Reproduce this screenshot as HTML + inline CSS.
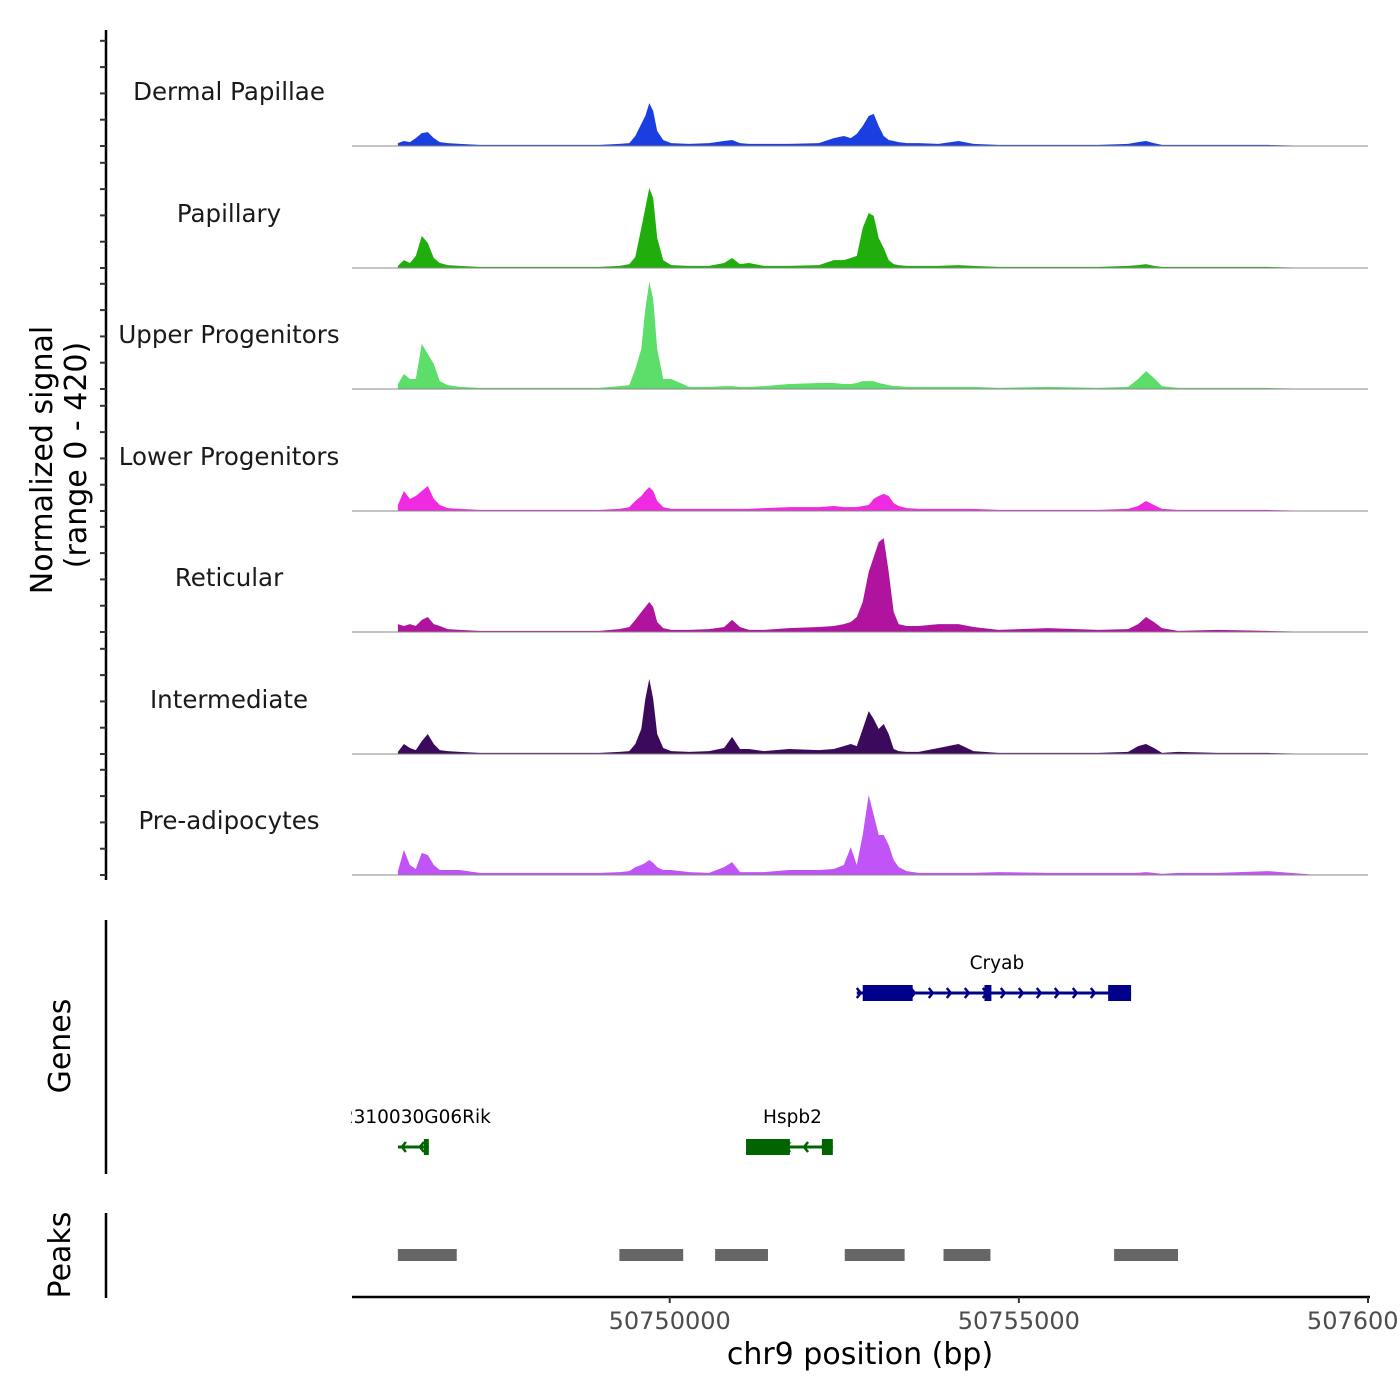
<!DOCTYPE html>
<html><head><meta charset="utf-8">
<style>
html,body{margin:0;padding:0;background:#fff;}
svg{display:block;font-family:"DejaVu Sans","Liberation Sans",sans-serif;}
</style></head>
<body>
<svg id="chart" width="1400" height="1400" viewBox="0 0 1400 1400" xmlns="http://www.w3.org/2000/svg">
<rect x="0" y="0" width="1400" height="1400" fill="#fff"/>
<g id="tracks"></g>
<g id="yaxis"></g>
<text transform="translate(52,460) rotate(-90)" text-anchor="middle" font-size="30" fill="#000">Normalized signal</text>
<text transform="translate(86,455) rotate(-90)" text-anchor="middle" font-size="30" fill="#000">(range 0 - 420)</text>
<g id="genes"></g>
<line x1="106" y1="920" x2="106" y2="1174" stroke="#000" stroke-width="2.5"/>
<text transform="translate(70,1046) rotate(-90)" text-anchor="middle" font-size="30" fill="#000">Genes</text>
<g id="peaks"></g>
<line x1="106" y1="1213" x2="106" y2="1298" stroke="#000" stroke-width="2.5"/>
<text transform="translate(70,1255) rotate(-90)" text-anchor="middle" font-size="30" fill="#000">Peaks</text>
<g id="xaxis"></g>
<text x="860" y="1364" text-anchor="middle" font-size="30" fill="#000">chr9 position (bp)</text>
</svg>
<script>
const trackNames = ["Dermal Papillae","Papillary","Upper Progenitors","Lower Progenitors","Reticular","Intermediate","Pre-adipocytes"];
const trackColors = ["#1a3fe0","#1fae0b","#5ddd6a","#f02ae0","#b0149f","#3b0a5c","#c054f7"];
const positions = [50746107,50746193,50746279,50746364,50746450,50746536,50746621,50746707,50746821,50746993,50747279,50747850,50748421,50748993,50749279,50749421,50749507,50749593,50749650,50749707,50749764,50749821,50749907,50750021,50750279,50750564,50750779,50750893,50751007,50751136,50751350,50751707,50752136,50752350,50752493,50752593,50752679,50752764,50752850,50752921,50752993,50753064,50753136,50753207,50753279,50753393,50753564,50753850,50754136,50754350,50754707,50755421,50756136,50756564,50756707,50756821,50756936,50757050,50757279,50757850,50758564,50759279];
const sigDermalPapillae = [11,19,15,30,49,53,30,15,11,8,4,4,4,4,8,11,38,84,114,163,133,57,23,11,8,11,19,23,11,8,8,8,11,30,38,30,46,76,114,122,76,38,23,19,15,11,11,8,19,8,4,4,4,8,15,19,11,4,4,4,4,0];
const sigPapillary = [8,30,19,46,122,95,38,19,11,8,4,4,4,4,8,15,42,152,228,304,266,114,30,11,8,8,19,38,15,19,8,8,11,30,30,38,46,152,209,198,114,76,30,15,11,8,8,8,11,8,4,4,4,8,11,15,8,4,4,4,4,0];
const sigUpperProgenitors = [19,57,38,38,171,133,95,30,15,8,4,4,4,4,11,15,76,152,304,407,342,152,38,38,8,8,11,11,8,8,11,19,23,23,19,19,23,30,30,30,23,19,15,11,11,8,8,8,8,8,4,8,4,8,38,68,42,11,4,4,4,0];
const sigLowerProgenitors = [23,76,46,57,76,95,46,23,11,8,4,4,4,4,8,15,38,57,76,91,76,38,15,8,8,8,8,8,8,8,11,15,15,19,15,15,15,19,23,46,57,65,57,30,19,11,8,8,8,8,4,4,4,8,19,38,23,8,4,4,4,0];
const sigReticular = [30,23,30,23,46,57,30,23,11,8,4,4,4,4,11,19,46,76,95,114,95,38,15,8,8,11,19,46,19,8,8,15,19,23,30,38,57,114,228,285,342,357,228,76,30,23,23,30,30,19,8,15,8,11,30,57,38,15,4,8,4,0];
const sigIntermediate = [8,38,23,15,49,76,38,15,11,8,4,4,4,4,8,11,38,95,209,285,209,76,23,11,8,11,23,65,19,19,11,19,15,19,30,38,30,95,163,133,95,114,76,19,11,8,8,23,38,11,4,4,4,8,30,38,23,4,8,4,4,0];
const sigPreadipocytes = [15,95,38,23,84,76,38,19,19,19,8,8,8,8,11,15,30,38,46,57,46,30,19,19,11,8,30,49,11,11,11,19,19,23,38,106,38,152,304,228,152,152,114,57,30,15,8,8,8,8,11,8,8,8,8,11,8,4,8,8,15,0];
const trackSignals = [sigDermalPapillae,sigPapillary,sigUpperProgenitors,sigLowerProgenitors,sigReticular,sigIntermediate,sigPreadipocytes];
const xTicks = [50750000,50755000,50760000];
const xTickLabels = ["50750000","50755000","50760000"];
const yTicks = [0,100,200,300,400];
const geneNames = ["Cryab","Hspb2","2310030G06Rik"];
const geneStarts = [50752679,50751093,50746107];
const geneEnds = [50756607,50752336,50746550];
const geneStrands = [1,-1,-1];
const geneExonStarts = [[50752764,50754507,50756279],[50751093,50752179],[50746479]];
const geneExonEnds = [[50753479,50754607,50756607],[50751721,50752336],[50746550]];
const peakStarts = [50746107,50749279,50750650,50752507,50753921,50756364];
const peakEnds = [50746950,50750193,50751407,50753364,50754593,50757279];

const NS="http://www.w3.org/2000/svg";
function mk(tag,attrs,parent){const e=document.createElementNS(NS,tag);for(const k in attrs)e.setAttribute(k,attrs[k]);parent.appendChild(e);return e;}
const X0=352,X1=1368,D0=50745450,D1=50760000;
function xs(bp){return X0+(bp-D0)/(D1-D0)*(X1-X0);}
const baselines=[146,268,389,511,632,754,875];
function ys(v,i){return baselines[i]-v*0.263;}

const tracks=document.getElementById('tracks');
trackSignals.forEach((sig,i)=>{
  let d="M"+xs(positions[0])+","+baselines[i];
  sig.forEach((v,j)=>{d+=" L"+xs(positions[j]).toFixed(1)+","+ys(v,i).toFixed(1);});
  d+=" L"+xs(positions[positions.length-1])+","+baselines[i]+" Z";
  const p=mk('path',{d:d,fill:trackColors[i]},tracks);
  
  
  const bl=mk('line',{x1:X0,x2:X1,y1:baselines[i],y2:baselines[i],stroke:'#888','stroke-width':1},tracks);
  
  
  const t=mk('text',{x:229,y:baselines[i]-46,'text-anchor':'middle','font-size':24.5,fill:'#1a1a1a'},tracks);
  t.textContent=trackNames[i];
  
  
});

const ya=document.getElementById('yaxis');
const yl=mk('line',{x1:106,x2:106,y1:30,y2:880,stroke:'#000','stroke-width':2.5},ya);


baselines.forEach((b,i)=>{yTicks.forEach(v=>{
  const tk=mk('line',{x1:100,x2:106,y1:ys(v,i),y2:ys(v,i),stroke:'#333','stroke-width':2},ya);
  
  
});});

const g=document.getElementById('genes');
const geneY=[993,1147,1147];
const geneCol=["#00008b","#006400","#006400"];
geneNames.forEach((n,i)=>{
  const y=geneY[i],c=geneCol[i];
  const x1=xs(geneStarts[i]),x2=xs(geneEnds[i]);
  const ln=mk('line',{x1:x1,x2:x2,y1:y,y2:y,stroke:c,'stroke-width':3},g);
  
  
  for(let x=x1+4;x<x2-4;x+=18){
    const dx=geneStrands[i]>0?4:-4;
    const ch=mk('polyline',{points:(x-dx)+","+(y-5)+" "+x+","+y+" "+(x-dx)+","+(y+5),fill:'none',stroke:c,'stroke-width':2.5},g);
    
    
  }
  geneExonStarts[i].forEach((s,k)=>{
    const ex=mk('rect',{x:xs(s),y:y-8,width:Math.max(3,xs(geneExonEnds[i][k])-xs(s)),height:16,fill:c},g);
    
    
  });
  const t=mk('text',{x:(x1+x2)/2+3,y:y-24,'text-anchor':'middle','font-size':18.5,fill:'#000'},g);
  t.textContent=n;
  
  
});
const cover=mk('rect',{x:0,y:1100,width:351,height:30,fill:'#fff'},g);



const pk=document.getElementById('peaks');
peakStarts.forEach((s,i)=>{
  const r=mk('rect',{x:xs(s),y:1249,width:xs(peakEnds[i])-xs(s),height:12,fill:'#666'},pk);
  
  
});

const xa=document.getElementById('xaxis');
const al=mk('line',{x1:X0,x2:X1+2,y1:1297,y2:1297,stroke:'#000','stroke-width':2.5},xa);


xTicks.forEach((v,i)=>{
  const tk=mk('line',{x1:xs(v),x2:xs(v),y1:1297,y2:1303,stroke:'#333','stroke-width':2},xa);
  
  
  const t=mk('text',{x:xs(v),y:1329,'text-anchor':'middle','font-size':24,fill:'#4d4d4d'},xa);
  t.textContent=xTickLabels[i];
  
  
});
</script>
</body></html>
